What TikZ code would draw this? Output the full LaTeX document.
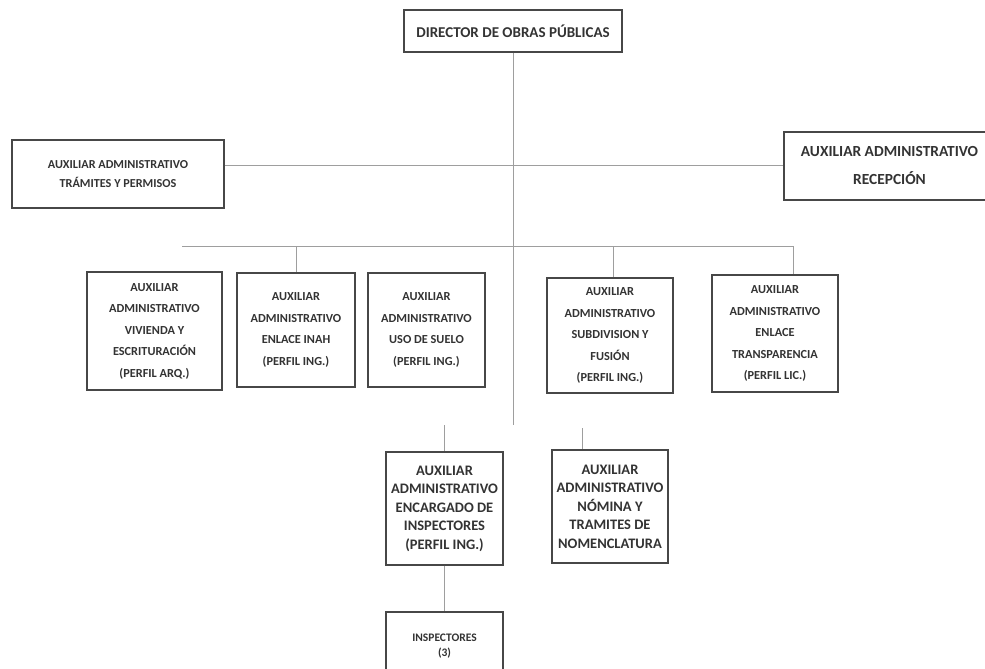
\documentclass[tikz,border=0pt]{standalone}
\usepackage{fontspec}
\setmainfont{Carlito}
\begin{document}
\begin{tikzpicture}[x=1pt,y=-1pt,
  box/.style={draw=black!72, line width=1.1pt, fill=white, align=center, inner sep=0pt, text=black!80},
  fsmall/.style={font=\bfseries\fontsize{12.3}{21.5}\selectfont},
  fmid/.style={font=\bfseries\fontsize{14.5}{18.5}\selectfont},
  conn/.style={draw=black!38, line width=0.8pt}]
\clip (0,0) rectangle (985,669);
\useasboundingbox (0,0) rectangle (985,669);

% top
\node[box, minimum width=218pt, minimum height=42pt, font=\bfseries\fontsize{15}{18}\selectfont] (dir) at (513,31) {DIRECTOR DE OBRAS PÚBLICAS};
\node[box, minimum width=212pt, minimum height=68pt, font=\bfseries\fontsize{12.2}{19}\selectfont] (tram) at (118,174) {AUXILIAR ADMINISTRATIVO\\TRÁMITES Y PERMISOS};
\node[box, minimum width=211pt, minimum height=68pt, font=\bfseries\fontsize{15.4}{28}\selectfont] (rec) at (889.5,166) {AUXILIAR ADMINISTRATIVO\\RECEPCIÓN};

% second row
\node[box, fsmall, minimum width=135pt, minimum height=118pt] (v1) at (154.5,331) {AUXILIAR\\ADMINISTRATIVO\\VIVIENDA Y\\ESCRITURACIÓN\\(PERFIL ARQ.)};
\node[box, fsmall, minimum width=118pt, minimum height=114pt] (v2) at (296,330) {AUXILIAR\\ADMINISTRATIVO\\ENLACE INAH\\(PERFIL ING.)};
\node[box, fsmall, minimum width=117pt, minimum height=114pt] (v3) at (426.5,330) {AUXILIAR\\ADMINISTRATIVO\\USO DE SUELO\\(PERFIL ING.)};
\node[box, fsmall, minimum width=126pt, minimum height=115pt] (v4) at (610,335.5) {AUXILIAR\\ADMINISTRATIVO\\SUBDIVISION Y\\FUSIÓN\\(PERFIL ING.)};
\node[box, fsmall, minimum width=126pt, minimum height=117pt] (v5) at (775,333.5) {AUXILIAR\\ADMINISTRATIVO\\ENLACE\\TRANSPARENCIA\\(PERFIL LIC.)};

% third row
\node[box, fmid, minimum width=117pt, minimum height=113pt] (enc) at (444.5,508.5) {AUXILIAR\\ADMINISTRATIVO\\ENCARGADO DE\\INSPECTORES\\(PERFIL ING.)};
\node[box, fmid, minimum width=116pt, minimum height=113pt] (nom) at (610,506.5) {AUXILIAR\\ADMINISTRATIVO\\NÓMINA Y\\TRAMITES DE\\NOMENCLATURA};

% inspectors
\node[box, font=\bfseries\fontsize{11.5}{15}\selectfont, minimum width=117pt, minimum height=68pt] (insp) at (444.5,646) {INSPECTORES\\(3)};

% helper coordinates
\coordinate (mainend) at (511,425);
\coordinate (hy) at (0,165);
\coordinate (busL) at (182,246);
\coordinate (v5top) at ([xshift=18pt]v5.north);
\coordinate (v4top) at ([xshift=3pt]v4.north);
\coordinate (nomtop) at ([xshift=-28pt]nom.north);

% connectors
\draw[conn] (dir.south) -- (dir.south |- mainend);
\draw[conn] (tram.east |- hy) -- (rec.west |- hy);
\draw[conn] (busL) -- (v5top |- busL);
\draw[conn] (v2.north |- busL) -- (v2.north);
\draw[conn] (v4top |- busL) -- (v4top);
\draw[conn] (v5top |- busL) -- (v5top);
\draw[conn] (enc.north |- mainend) -- (enc.north);
\draw[conn] (nomtop |- 0,428) -- (nomtop);
\draw[conn] (enc.south) -- (insp.north);
\end{tikzpicture}
\end{document}
